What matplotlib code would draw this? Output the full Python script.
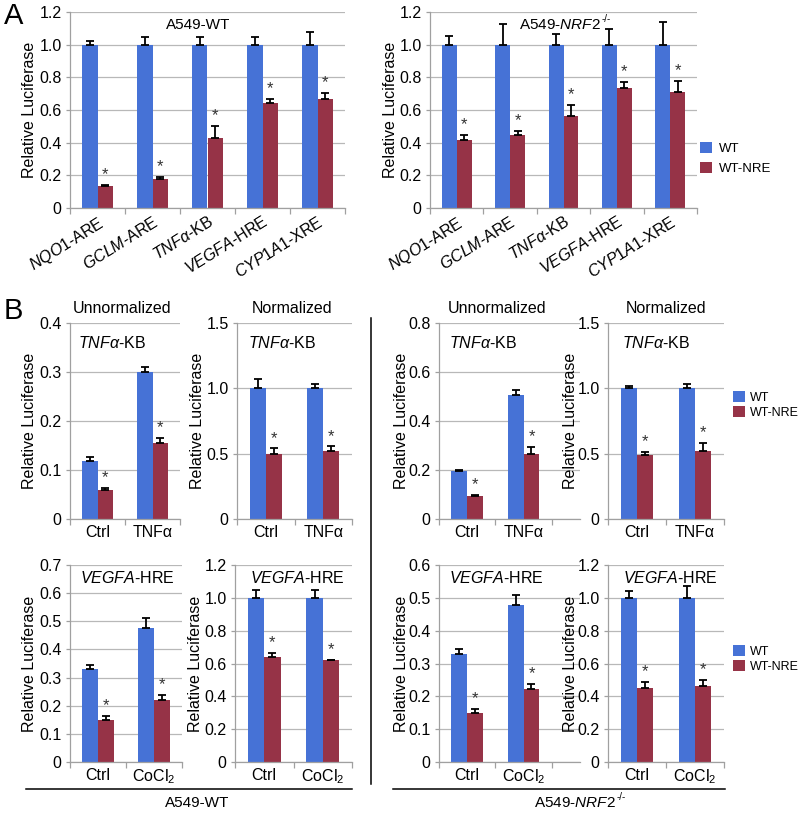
import numpy as np
import matplotlib.pyplot as plt
from matplotlib.lines import Line2D
from matplotlib.ticker import FixedLocator, FuncFormatter

plt.rcParams['font.family'] = ['Liberation Sans', 'DejaVu Sans']
plt.rcParams['mathtext.fontset'] = 'custom'
plt.rcParams['mathtext.rm'] = 'Liberation Sans'
plt.rcParams['mathtext.it'] = 'Liberation Sans:italic'
plt.rcParams['mathtext.default'] = 'regular'

BLUE = '#4672d6'
RED = '#963347'
GRID = '#b8b8b8'
AXIS = '#a0a0a0'

W, H = 800, 815

# ---- panel A data ----
reporters = [r'$\mathit{NQO1}$-ARE', r'$\mathit{GCLM}$-ARE', r'$\mathit{TNFα}$-KB',
             r'$\mathit{VEGFA}$-HRE', r'$\mathit{CYP1A1}$-XRE']
a_wt_wt = [1.0, 1.0, 1.0, 1.0, 1.0]
a_wt_wt_err = [0.025, 0.045, 0.05, 0.045, 0.075]
a_wt_nre = [0.135, 0.18, 0.43, 0.64, 0.665]
a_wt_nre_err = [0.005, 0.01, 0.075, 0.025, 0.04]
a_ko_wt = [1.0, 1.0, 1.0, 1.0, 1.0]
a_ko_wt_err = [0.055, 0.125, 0.065, 0.095, 0.14]
a_ko_nre = [0.415, 0.45, 0.565, 0.735, 0.71]
a_ko_nre_err = [0.03, 0.02, 0.065, 0.035, 0.07]

# ---- panel B data ----
tnf_conds = ['Ctrl', 'TNFα']
cocl_conds = ['Ctrl', 'CoCl$_2$']

b_wt_tnf_raw_wt = [0.118, 0.301]
b_wt_tnf_raw_wt_err = [0.009, 0.009]
b_wt_tnf_raw_nre = [0.059, 0.156]
b_wt_tnf_raw_nre_err = [0.004, 0.009]

b_wt_tnf_norm_wt = [1.0, 1.0]
b_wt_tnf_norm_wt_err = [0.075, 0.03]
b_wt_tnf_norm_nre = [0.5, 0.52]
b_wt_tnf_norm_nre_err = [0.04, 0.035]

b_ko_tnf_raw_wt = [0.195, 0.505]
b_ko_tnf_raw_wt_err = [0.003, 0.02]
b_ko_tnf_raw_nre = [0.095, 0.265]
b_ko_tnf_raw_nre_err = [0.004, 0.03]

b_ko_tnf_norm_wt = [1.0, 1.0]
b_ko_tnf_norm_wt_err = [0.015, 0.03]
b_ko_tnf_norm_nre = [0.49, 0.52]
b_ko_tnf_norm_nre_err = [0.025, 0.06]

b_wt_hre_raw_wt = [0.33, 0.475]
b_wt_hre_raw_wt_err = [0.015, 0.035]
b_wt_hre_raw_nre = [0.15, 0.222]
b_wt_hre_raw_nre_err = [0.013, 0.015]

b_wt_hre_norm_wt = [1.0, 1.0]
b_wt_hre_norm_wt_err = [0.05, 0.05]
b_wt_hre_norm_nre = [0.637, 0.622]
b_wt_hre_norm_nre_err = [0.03, 0.0]

b_ko_hre_raw_wt = [0.33, 0.478]
b_ko_hre_raw_wt_err = [0.015, 0.032]
b_ko_hre_raw_nre = [0.148, 0.222]
b_ko_hre_raw_nre_err = [0.013, 0.015]

b_ko_hre_norm_wt = [1.0, 1.0]
b_ko_hre_norm_wt_err = [0.04, 0.07]
b_ko_hre_norm_nre = [0.45, 0.465]
b_ko_hre_norm_nre_err = [0.04, 0.035]


def box(x0, x1, y0, y1):
    return [x0 / W, 1 - y1 / H, (x1 - x0) / W, (y1 - y0) / H]


def fmt(v, pos):
    return '0' if abs(v) < 1e-9 else f'{v:.1f}'


def bar_panel(fig, rect, cats, wt, wt_err, nre, nre_err, ymax, ystep,
              label_x, xmax=None, rot=0, tick_fs=11.5):
    x0, x1, y0, y1 = rect
    ax = fig.add_axes(box(x0, x1, y0, y1))
    n = len(cats)
    x = np.arange(n)
    w = 0.28
    ax.yaxis.grid(True, color=GRID, lw=0.9)
    ax.set_axisbelow(True)
    ax.bar(x - w / 2, wt, w, color=BLUE, label='WT', zorder=2)
    ax.bar(x + w / 2, nre, w, color=RED, label='WT-NRE', zorder=2)
    ekw = dict(fmt='none', ecolor='black', elinewidth=1.3, capsize=2.6,
               capthick=1.3, zorder=3)
    ax.errorbar(x - w / 2, wt, yerr=[np.zeros(n), wt_err], **ekw)
    ax.errorbar(x + w / 2, nre, yerr=[np.zeros(n), nre_err], **ekw)
    for xi, v, e in zip(x + w / 2, nre, nre_err):
        ax.annotate('*', xy=(xi, v + e), xytext=(0, 2), textcoords='offset points',
                    ha='center', va='bottom', fontsize=12, color='#333333')
    ax.set_ylim(0, ymax)
    ax.set_xlim(-0.5, (n - 0.5) if xmax is None else xmax)
    ax.yaxis.set_major_locator(FixedLocator(np.arange(0, ymax + 1e-9, ystep)))
    ax.yaxis.set_major_formatter(FuncFormatter(fmt))
    ax.set_xticks(x)
    if rot:
        ax.set_xticklabels(cats, rotation=rot, ha='right', rotation_mode='anchor',
                           fontsize=tick_fs)
    else:
        ax.set_xticklabels(cats, fontsize=tick_fs)
    ax.set_xticks(np.arange(-0.5, n, 1.0), minor=True)
    ax.tick_params(axis='x', which='major', length=0, pad=4)
    ax.tick_params(axis='x', which='minor', length=4, color=AXIS, width=0.9)
    ax.tick_params(axis='y', length=3, color=AXIS, width=0.9, labelsize=11.5, pad=3)
    for s in ['top', 'right']:
        ax.spines[s].set_visible(False)
    for s in ['left', 'bottom']:
        ax.spines[s].set_color(AXIS)
        ax.spines[s].set_linewidth(0.9)
    ax.set_ylabel('Relative Luciferase', fontsize=11.5)
    ax.yaxis.set_label_coords((label_x - x0) / (x1 - x0), 0.5)
    return ax


fig = plt.figure(figsize=(W / 100, H / 100), dpi=100)

# ---- panel A ----
axA1 = bar_panel(fig, (70, 345, 12, 208), reporters, a_wt_wt, a_wt_wt_err,
                 a_wt_nre, a_wt_nre_err, 1.2, 0.2, 37, rot=32)
axA2 = bar_panel(fig, (430, 697, 12, 208), reporters, a_ko_wt, a_ko_wt_err,
                 a_ko_nre, a_ko_nre_err, 1.2, 0.2, 398, rot=32)
fig.text(198 / W, 1 - 25 / H, 'A549-WT', ha='center', va='center', fontsize=11)
handles, labels = axA2.get_legend_handles_labels()
fig.legend(handles, labels, loc='upper left', bbox_to_anchor=(700 / W, 1 - 142 / H),
           frameon=False, fontsize=9.5, handlelength=0.9, handleheight=0.9,
           handletextpad=0.5, labelspacing=0.5, borderpad=0, borderaxespad=0)

# ---- panel B ----
bar_panel(fig, (70, 180, 323, 519), tnf_conds, b_wt_tnf_raw_wt, b_wt_tnf_raw_wt_err,
          b_wt_tnf_raw_nre, b_wt_tnf_raw_nre_err, 0.4, 0.1, 37)
bar_panel(fig, (237, 352, 323, 519), tnf_conds, b_wt_tnf_norm_wt, b_wt_tnf_norm_wt_err,
          b_wt_tnf_norm_nre, b_wt_tnf_norm_nre_err, 1.5, 0.5, 205)
bar_panel(fig, (439, 580, 323, 519), tnf_conds, b_ko_tnf_raw_wt, b_ko_tnf_raw_wt_err,
          b_ko_tnf_raw_nre, b_ko_tnf_raw_nre_err, 0.8, 0.2, 409, xmax=2.0)
axB4 = bar_panel(fig, (608, 724, 323, 519), tnf_conds, b_ko_tnf_norm_wt,
                 b_ko_tnf_norm_wt_err, b_ko_tnf_norm_nre, b_ko_tnf_norm_nre_err,
                 1.5, 0.5, 578)

bar_panel(fig, (70, 182, 565, 762), cocl_conds, b_wt_hre_raw_wt, b_wt_hre_raw_wt_err,
          b_wt_hre_raw_nre, b_wt_hre_raw_nre_err, 0.7, 0.1, 37)
bar_panel(fig, (235, 352, 565, 762), cocl_conds, b_wt_hre_norm_wt, b_wt_hre_norm_wt_err,
          b_wt_hre_norm_nre, b_wt_hre_norm_nre_err, 1.2, 0.2, 203)
bar_panel(fig, (439, 580, 565, 762), cocl_conds, b_ko_hre_raw_wt, b_ko_hre_raw_wt_err,
          b_ko_hre_raw_nre, b_ko_hre_raw_nre_err, 0.6, 0.1, 409, xmax=2.0)
axB8 = bar_panel(fig, (608, 724, 565, 762), cocl_conds, b_ko_hre_norm_wt,
                 b_ko_hre_norm_wt_err, b_ko_hre_norm_nre, b_ko_hre_norm_nre_err,
                 1.2, 0.2, 578)

for ax, top in [(axB4, 391), (axB8, 645)]:
    handles, labels = ax.get_legend_handles_labels()
    fig.legend(handles, labels, loc='upper left', bbox_to_anchor=(733 / W, 1 - top / H),
               frameon=False, fontsize=9, handlelength=0.95, handleheight=0.95,
               handletextpad=0.4, labelspacing=0.2, borderpad=0, borderaxespad=0)

# headers and inner labels
for xc, txt in [(122, 'Unnormalized'), (292, 'Normalized'),
                (497, 'Unnormalized'), (666, 'Normalized')]:
    fig.text(xc / W, 1 - 308 / H, txt, ha='center', va='center', fontsize=11.5)
for xl in [78, 248, 449, 622]:
    fig.text(xl / W, 1 - 343 / H, r'$\mathit{TNFα}$-KB', ha='left', va='center',
             fontsize=11.5)
for xl in [80, 250, 449, 623]:
    fig.text(xl / W, 1 - 578 / H, r'$\mathit{VEGFA}$-HRE', ha='left', va='center',
             fontsize=11.5)

fig.text(4 / W, 1 - 16 / H, 'A', ha='left', va='center', fontsize=21)
fig.text(4 / W, 1 - 311 / H, 'B', ha='left', va='center', fontsize=21)

# separators and cell line labels
fig.add_artist(Line2D([371 / W, 371 / W], [1 - 318 / H, 1 - 784 / H], color='black',
                      lw=1.1, transform=fig.transFigure))
fig.add_artist(Line2D([26 / W, 352 / W], [1 - 789 / H, 1 - 789 / H], color='black',
                      lw=1.1, transform=fig.transFigure))
fig.add_artist(Line2D([393 / W, 725 / W], [1 - 789 / H, 1 - 789 / H], color='black',
                      lw=1.1, transform=fig.transFigure))
fig.text(197 / W, 1 - 803 / H, 'A549-WT', ha='center', va='center', fontsize=11)

# "A549-NRF2" with a small -/- superscript
for xc, yc in [(560, 25), (575, 803)]:
    t = fig.text(xc / W, 1 - yc / H, r'A549-$\mathit{NRF2}$', ha='center', va='center',
                 fontsize=11)
    axA2.annotate('-/-', xy=(1.0, 1.0), xycoords=t, xytext=(0.5, -1),
                  textcoords='offset points', ha='left', va='center',
                  fontsize=7, annotation_clip=False)

fig.savefig('out.png', dpi=100)
